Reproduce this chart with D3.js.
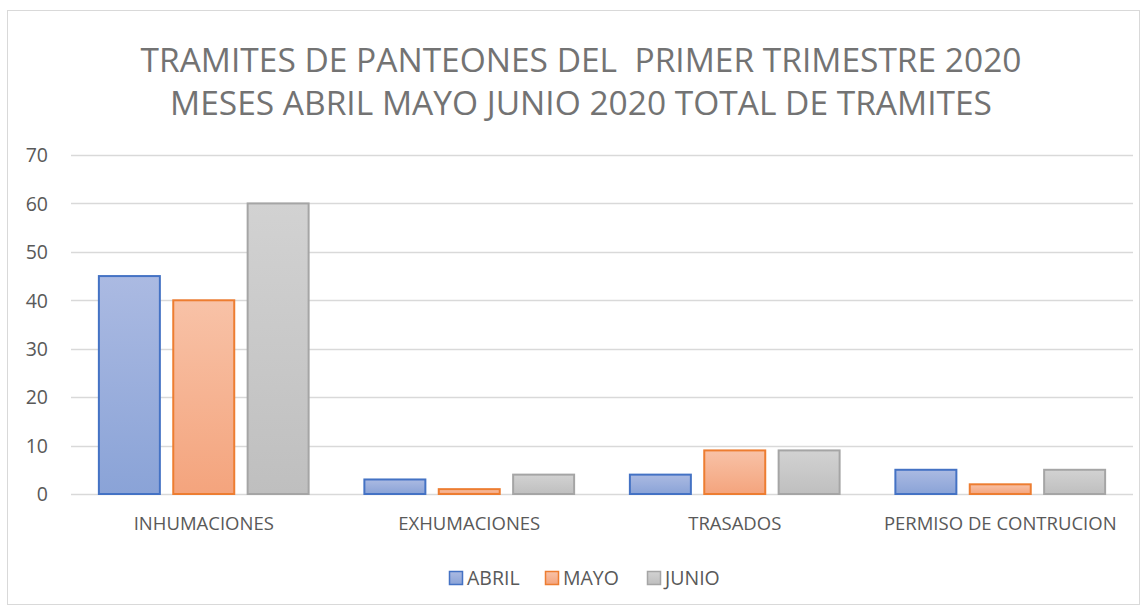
<!DOCTYPE html>
<html>
<head>
<meta charset="utf-8">
<script src="https://cdn.jsdelivr.net/npm/d3@7"></script>
<style>
  body { margin: 0; background: #fff; }
  text { font-family: "Open Sans", "Liberation Sans", sans-serif; fill: #595959; white-space: pre; }
</style>
</head>
<body>
<div id="chart"></div>
<script>
// datos
var categorias = ['INHUMACIONES', 'EXHUMACIONES', 'TRASADOS', 'PERMISO DE CONTRUCION']
var series = ['ABRIL', 'MAYO', 'JUNIO']
var abril = [45, 3, 4, 5]
var mayo = [40, 1, 9, 2]
var junio = [60, 4, 9, 5]
var ticks = [0, 10, 20, 30, 40, 50, 60, 70]
var titulo = ['TRAMITES DE PANTEONES DEL  PRIMER TRIMESTRE 2020', 'MESES ABRIL MAYO JUNIO 2020 TOTAL DE TRAMITES']

var valores = [abril, mayo, junio]
var colores = [
  {top: '#abbae2', bottom: '#8aa3d7', stroke: '#4472c4'},
  {top: '#f8c2a7', bottom: '#f4a47d', stroke: '#ed7d31'},
  {top: '#d2d2d2', bottom: '#bfbfbf', stroke: '#a5a5a5'}
]

var W = 1147, H = 611
var svg = d3.select('#chart').append('svg')
  .attr('width', W).attr('height', H)

var defs = svg.append('defs')
colores.forEach(function(c, i) {
  var g = defs.append('linearGradient').attr('id', 'grad' + i)
    .attr('x1', 0).attr('y1', 0).attr('x2', 0).attr('y2', 1)
  g.append('stop').attr('offset', '0%').attr('stop-color', c.top)
  g.append('stop').attr('offset', '100%').attr('stop-color', c.bottom)
})

// marco
svg.append('rect')
  .attr('x', 7.5).attr('y', 10.5).attr('width', 1132).attr('height', 594)
  .attr('fill', '#fff').attr('stroke', '#d9d9d9')

// titulo
svg.selectAll('.titulo')
  .data(titulo)
  .enter()
  .append('text')
  .attr('x', 581)
  .attr('y', function(d, i) { return 72 + i * 43 })
  .attr('text-anchor', 'middle')
  .style('font-size', '33.5px')
  .style('fill', '#737373')
  .text(function(d) { return d })

var plotL = 71, plotR = 1133, plotT = 155, plotB = 494

var y = d3.scaleLinear().domain([0, 70]).range([plotB, plotT])
var x0 = d3.scaleBand().domain(categorias).range([plotL, plotR]).paddingInner(0.21).paddingOuter(0.105)
var x1 = d3.scaleBand().domain(series).range([0, x0.bandwidth()]).paddingInner(0.18)

// rejilla
svg.selectAll('.grid')
  .data(ticks)
  .enter()
  .append('line')
  .attr('x1', plotL).attr('x2', plotR)
  .attr('y1', function(d) { return Math.round(y(d)) + 0.5 })
  .attr('y2', function(d) { return Math.round(y(d)) + 0.5 })
  .attr('stroke', '#d9d9d9')
  .attr('stroke-width', 1.3)

var yAxis = svg.append('g')
  .attr('transform', 'translate(48,0)')
  .call(d3.axisLeft(y).tickValues(ticks).tickSize(0).tickPadding(0))
yAxis.select('.domain').remove()
yAxis.selectAll('text')
  .attr('dy', '0.35em')
  .style('font-size', '19.5px')
  .style('font-family', '"Open Sans", "Liberation Sans", sans-serif')
  .attr('fill', '#595959')

var grupos = svg.selectAll('.grupo')
  .data(categorias)
  .enter()
  .append('g')
  .attr('transform', function(d) { return 'translate(' + x0(d) + ',0)' })

grupos.selectAll('rect')
  .data(function(d, ci) { return series.map(function(s, si) { return {s: s, si: si, v: valores[si][ci]} }) })
  .enter()
  .append('rect')
  .attr('x', function(d) { return x1(d.s) })
  .attr('y', function(d) { return y(d.v) })
  .attr('width', x1.bandwidth())
  .attr('height', function(d) { return plotB - y(d.v) })
  .attr('fill', function(d) { return 'url(#grad' + d.si + ')' })
  .attr('stroke', function(d) { return colores[d.si].stroke })
  .attr('stroke-width', 2)

// etiquetas de categoria
svg.selectAll('.cat')
  .data(categorias)
  .enter()
  .append('text')
  .attr('x', function(d) { return x0(d) + x0.bandwidth() / 2 })
  .attr('y', 530)
  .attr('text-anchor', 'middle')
  .style('font-size', '18.5px')
  .text(function(d) { return d })

// leyenda
var legX = [449, 545, 647]
var leyenda = svg.selectAll('.ley')
  .data(series)
  .enter()
  .append('g')
  .attr('transform', function(d, i) { return 'translate(' + legX[i] + ',578)' })
leyenda.append('rect')
  .attr('x', 0.5).attr('y', -6.5).attr('width', 13).attr('height', 13)
  .attr('fill', function(d, i) { return 'url(#grad' + i + ')' })
  .attr('stroke', function(d, i) { return colores[i].stroke })
  .attr('stroke-width', 1.5)
leyenda.append('text')
  .attr('x', 18).attr('y', 0).attr('dy', '0.35em')
  .style('font-size', '19.5px')
  .text(function(d) { return d })
</script>
</body>
</html>
